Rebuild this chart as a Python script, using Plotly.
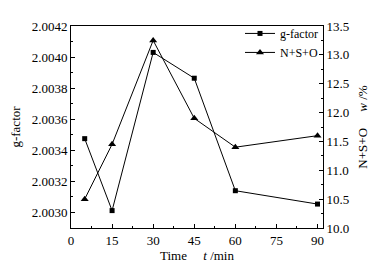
import plotly.graph_objects as go

time_min = [5, 15, 30, 45, 60, 90]
g_factor = [2.003475, 2.003012, 2.00403, 2.003864, 2.00314, 2.003054]
nso_w = [10.5, 11.45, 13.25, 11.9, 11.4, 11.6]

x_ticks = [0, 15, 30, 45, 60, 75, 90]
font = dict(family="Liberation Serif, Times New Roman, serif", size=13, color="black")
lfont = dict(family="Liberation Serif, Times New Roman, serif", size=12, color="black")

fig = go.Figure()
fig.add_trace(go.Scatter(x=time_min, y=g_factor, name="g-factor", mode="lines+markers",
                         line=dict(color="black", width=1),
                         marker=dict(symbol="square", size=5, color="black")))
fig.add_trace(go.Scatter(x=time_min, y=nso_w, name="N+S+O", mode="lines+markers", yaxis="y2",
                         line=dict(color="black", width=1),
                         marker=dict(symbol="triangle-up", size=7, color="black")))

# the page body has an 8px default margin, so the figure is sized/placed to compensate
fig.update_layout(
    width=377, height=261,
    margin=dict(l=63, r=62, t=11, b=41),
    paper_bgcolor="white", plot_bgcolor="white",
    font=font,
    showlegend=True,
    legend=dict(x=1.0, y=1.035, xanchor="right", yanchor="top", bgcolor="rgba(0,0,0,0)",
                font=lfont, tracegroupgap=0, itemwidth=30),
    xaxis=dict(range=[0, 92], tickvals=x_ticks, ticks="inside", ticklen=4, tickcolor="black",
               showline=True, linecolor="black", linewidth=1, mirror=True, showgrid=False,
               zeroline=False, automargin=False,
               minor=dict(dtick=7.5, tick0=0, ticks="inside", ticklen=2, tickcolor="black"),
               title=dict(text="Time&nbsp;&nbsp;&nbsp;&nbsp;&nbsp;<i>t</i> /min", standoff=2, font=font)),
    yaxis=dict(range=[2.0029, 2.0042], dtick=0.0002, tick0=2.0030, tickformat=".4f",
               ticks="inside", ticklen=4, tickcolor="black", automargin=False,
               showline=True, linecolor="black", linewidth=1, showgrid=False, zeroline=False,
               minor=dict(dtick=0.0001, ticks="inside", ticklen=2, tickcolor="black"),
               title=dict(text="g-factor", standoff=8, font=font)),
    yaxis2=dict(range=[10, 13.5], dtick=0.5, tick0=10, tickformat=".1f", overlaying="y", side="right",
                ticks="inside", ticklen=4, tickcolor="black", automargin=False,
                showline=True, linecolor="black", linewidth=1, showgrid=False, zeroline=False,
                minor=dict(dtick=0.25, ticks="inside", ticklen=2, tickcolor="black"),
                title=dict(text="N+S+O&nbsp;&nbsp;&nbsp;&nbsp;&nbsp;<i>w</i> /%", standoff=9, font=font)),
)

fig.write_html("out.html")
